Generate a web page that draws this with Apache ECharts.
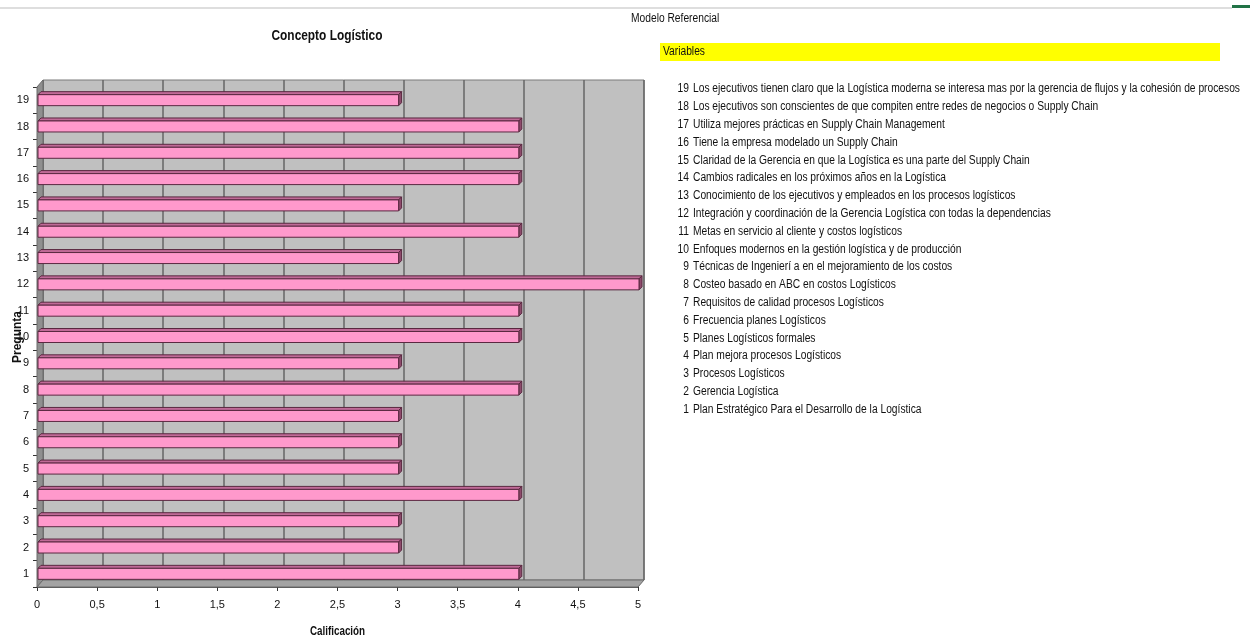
<!DOCTYPE html>
<html>
<head>
<meta charset="utf-8">
<script src="https://cdn.jsdelivr.net/npm/echarts@6/dist/echarts.min.js"></script>
<style>
  html, body { margin: 0; padding: 0; background: #ffffff; }
  #chart { width: 1250px; height: 641px; }
</style>
</head>
<body>
<div id="chart"></div>
<script>
// Question numbers (category axis, bottom to top)
const questions = ['1','2','3','4','5','6','7','8','9','10','11','12','13','14','15','16','17','18','19'];
// Score per question
const scores = [4, 3, 3, 4, 3, 3, 3, 4, 3, 4, 4, 5, 3, 4, 3, 4, 4, 4, 3];
// Variable descriptions, question 1 .. 19
const variables = [
  'Plan Estratégico Para el Desarrollo de la Logística',
  'Gerencia Logística',
  'Procesos Logísticos',
  'Plan mejora procesos Logísticos',
  'Planes Logísticos formales',
  'Frecuencia planes Logísticos',
  'Requisitos de calidad procesos Logísticos',
  'Costeo basado en ABC en costos Logísticos',
  'Técnicas de Ingenierí a en el mejoramiento de los costos',
  'Enfoques modernos en la gestión logística y de producción',
  'Metas en servicio al cliente y costos logísticos',
  'Integración y coordinación de la Gerencia Logística con todas la dependencias',
  'Conocimiento de los ejecutivos y empleados en los procesos logísticos',
  'Cambios radicales en los próximos años en la Logística',
  'Claridad de la Gerencia en que la Logística es una parte del Supply Chain',
  'Tiene la empresa modelado un Supply Chain',
  'Utiliza mejores prácticas en Supply Chain Management',
  'Los ejecutivos son conscientes de que compiten entre redes de negocios o Supply Chain',
  'Los ejecutivos tienen claro que la Logística moderna se interesa mas por la gerencia de flujos y la cohesión de procesos'
];

const FONT = '"Liberation Sans", Arial, sans-serif';
// horizontal squeeze giving a narrow typeface look
const NARROW = 0.82;

// Plot frame: front plane and the back wall offset by the 3D depth
const front = { left: 37, right: 638, top: 87, bottom: 587 };
const depth = { dx: 6, dy: -7 };
const back = {
  left: front.left + depth.dx, right: front.right + depth.dx,
  top: front.top + depth.dy, bottom: front.bottom + depth.dy
};
const W = 1250, H = 641;

function narrowText(text, x, y, font, align, extra) {
  return Object.assign({
    type: 'text', x: x, y: y, scaleX: NARROW, z: 3,
    style: { text: text, fill: '#111', font: font, textAlign: align || 'left', textVerticalAlign: 'middle' }
  }, extra || {});
}

// Variable list on the right
const listTop = 89, listStep = 17.8, numRight = 689, textLeft = 693;
const listGraphics = [];
for (let q = variables.length; q >= 1; q--) {
  const y = listTop + (variables.length - q) * listStep;
  listGraphics.push(narrowText(String(q), numRight, y, '12.5px ' + FONT, 'right'));
  listGraphics.push(narrowText(variables[q - 1], textLeft, y, '12.5px ' + FONT, 'left'));
}

const chart = echarts.init(document.getElementById('chart'), null, { renderer: 'canvas' });

// 3D-looking horizontal bar: front face, top face and end cap
function renderBar(params, api) {
  const cat = api.value(1);
  const val = api.value(0);
  const p0 = api.coord([0, cat]);
  const p1 = api.coord([val, cat]);
  const h = 11, d = 3;
  const cy = p0[1];
  const x0 = p0[0] + 1, x1 = p1[0] + 1;
  const top = cy - h / 2, bot = cy + h / 2;
  const stroke = '#5a2840';
  return {
    type: 'group',
    children: [
      { type: 'polygon', shape: { points: [[x0, top], [x1, top], [x1 + d, top - d], [x0 + d, top - d]] },
        style: { fill: '#c06a97', stroke: stroke, lineWidth: 1 } },
      { type: 'polygon', shape: { points: [[x1, top], [x1 + d, top - d], [x1 + d, bot - d], [x1, bot]] },
        style: { fill: '#8e4a6c', stroke: stroke, lineWidth: 1 } },
      { type: 'rect', shape: { x: x0, y: top, width: x1 - x0, height: h },
        style: { fill: '#ff99cc', stroke: stroke, lineWidth: 1 } }
    ]
  };
}

chart.setOption({
  animation: false,
  backgroundColor: '#ffffff',
  grid: [
    { left: front.left, right: W - front.right, top: front.top, bottom: H - front.bottom,
      show: false, containLabel: false, outerBoundsMode: 'none' },
    { left: back.left, right: W - back.right, top: back.top, bottom: H - back.bottom,
      show: true, backgroundColor: '#c0c0c0', borderWidth: 1, borderColor: '#7a7a7a', z: 0,
      containLabel: false, outerBoundsMode: 'none' }
  ],
  xAxis: [
    { type: 'value', gridIndex: 0, min: 0, max: 5, interval: 0.5,
      axisLine: { show: true, lineStyle: { color: '#555', width: 1 } },
      axisTick: { show: true, length: 4, lineStyle: { color: '#333' } },
      axisLabel: { margin: 12, fontFamily: FONT, fontSize: 11, color: '#111',
        formatter: v => String(v).replace('.', ',') },
      splitLine: { show: false } },
    { type: 'value', gridIndex: 1, min: 0, max: 5, interval: 0.5,
      axisLine: { show: false }, axisTick: { show: false }, axisLabel: { show: false },
      splitLine: { show: true, lineStyle: { color: '#666', width: 1.5 } } }
  ],
  yAxis: [
    { type: 'category', gridIndex: 0, data: questions,
      axisLine: { show: true, lineStyle: { color: '#333', width: 1 } },
      axisTick: { show: true, length: 4, lineStyle: { color: '#333' } },
      axisLabel: { margin: 8, fontFamily: FONT, fontSize: 11, color: '#111' } },
    { type: 'value', gridIndex: 1, show: false, splitLine: { show: false } }
  ],
  graphic: [
    // thin rule along the top edge
    { type: 'line', shape: { x1: 0, y1: 8, x2: 1232, y2: 8 }, style: { stroke: '#bdbdbd', lineWidth: 1 }, z: 1 },
    { type: 'rect', shape: { x: 1232, y: 5, width: 18, height: 3 }, style: { fill: '#217346' }, z: 1 },
    // side wall
    { type: 'polygon', z: 1,
      shape: { points: [[front.left, front.bottom], [front.left, front.top], [back.left, back.top], [back.left, back.bottom]] },
      style: { fill: '#8f8f8f', stroke: '#6a6a6a', lineWidth: 1 } },
    // floor
    { type: 'polygon', z: 1,
      shape: { points: [[front.left, front.bottom], [front.right, front.bottom], [back.right, back.bottom], [back.left, back.bottom]] },
      style: { fill: '#a3a3a3', stroke: '#6a6a6a', lineWidth: 1 } },
    // chart title and axis names
    narrowText('Concepto Logístico', 327, 36, 'bold 14.5px ' + FONT, 'center'),
    narrowText('Calificación', (front.left + front.right) / 2, 632, 'bold 12px ' + FONT, 'center'),
    narrowText('Pregunta', 18, (front.top + front.bottom) / 2, 'bold 12px ' + FONT, 'center',
      { rotation: Math.PI / 2, scaleX: 1 }),
    // sheet heading and "Variables" band
    narrowText('Modelo Referencial', 631, 19, '12.5px ' + FONT, 'left'),
    { type: 'rect', shape: { x: 660, y: 43, width: 560, height: 18 }, style: { fill: '#ffff00' }, z: 1 },
    narrowText('Variables', 663, 52, '12.5px ' + FONT, 'left')
  ].concat(listGraphics),
  series: [
    { type: 'custom', xAxisIndex: 0, yAxisIndex: 0, z: 5,
      renderItem: renderBar,
      encode: { x: 0, y: 1 },
      data: scores.map((s, i) => [s, i]) }
  ]
});
</script>
</body>
</html>
